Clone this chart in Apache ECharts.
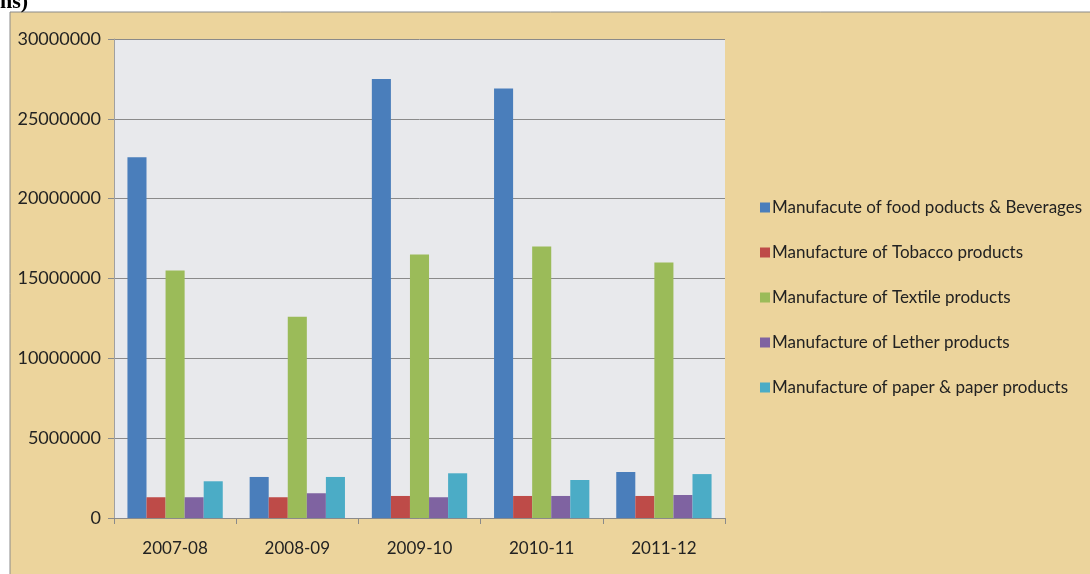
<!DOCTYPE html>
<html>
<head>
<meta charset="utf-8">
<script src="https://cdn.jsdelivr.net/npm/echarts@6/dist/echarts.min.js"></script>
<style>
  html, body { margin: 0; padding: 0; background: #fff; }
  #chart { width: 1090px; height: 574px; }
</style>
</head>
<body>
<div id="chart"></div>
<script>
const years = ['2007-08', '2008-09', '2009-10', '2010-11', '2011-12'];
const seriesNames = [
    'Manufacute of food poducts & Beverages',
    'Manufacture of Tobacco products',
    'Manufacture of Textile products',
    'Manufacture of Lether products',
    'Manufacture of paper & paper products'
];
const food = [22600000, 2570000, 27500000, 26900000, 2880000];
const tobacco = [1300000, 1300000, 1380000, 1380000, 1380000];
const textile = [15500000, 12600000, 16500000, 17000000, 16000000];
const leather = [1300000, 1550000, 1300000, 1380000, 1440000];
const paper = [2300000, 2570000, 2800000, 2380000, 2750000];
const colors = ['#4a7ebb', '#be4b48', '#9bbb59', '#7f63a1', '#4bacc6'];

const chart = echarts.init(document.getElementById('chart'));
const allData = [food, tobacco, textile, leather, paper];

const option = {
    backgroundColor: '#fff',
    animation: false,
    textStyle: { fontFamily: 'Lato' },
    graphic: [
        {
            type: 'rect',
            z: -10,
            shape: { x: 10, y: 12, width: 1085, height: 570 },
            style: { fill: '#ecd49c', stroke: '#8a8a8a', lineWidth: 1 }
        },
        {
            type: 'text',
            left: 0,
            top: -9,
            style: {
                text: 'ns)',
                font: 'bold 22px "Liberation Serif"',
                fill: '#000'
            }
        }
    ],
    legend: {
        orient: 'vertical',
        left: 755,
        top: 194,
        itemWidth: 10,
        itemHeight: 10,
        itemGap: 28,
        icon: 'rect',
        selectedMode: false,
        textStyle: { color: '#222', fontSize: 17, fontFamily: 'Lato', padding: [0, 0, 0, -3] },
        data: seriesNames
    },
    grid: {
        left: 114,
        right: 365,
        top: 39,
        bottom: 56,
        show: true,
        backgroundColor: '#e8e9ec',
        borderWidth: 0
    },
    xAxis: {
        type: 'category',
        data: years,
        axisLine: { lineStyle: { color: '#8a8a8a' } },
        axisTick: { show: true, length: 6, lineStyle: { color: '#8a8a8a' } },
        axisLabel: { color: '#222', fontSize: 17, margin: 22 }
    },
    yAxis: {
        type: 'value',
        min: 0,
        max: 30000000,
        interval: 5000000,
        axisLine: { show: true, lineStyle: { color: '#a0a0a0' } },
        axisTick: { show: true, length: 6, lineStyle: { color: '#8a8a8a' } },
        splitLine: { lineStyle: { color: '#8a8a8a', width: 1 } },
        axisLabel: { color: '#222', fontSize: 18, margin: 13, formatter: v => String(v) }
    },
    series: seriesNames.map((name, i) => ({
        name: name,
        type: 'bar',
        barGap: '0%',
        barCategoryGap: '22%',
        itemStyle: { color: colors[i] },
        data: allData[i]
    }))
};

chart.setOption(option);
</script>
</body>
</html>
